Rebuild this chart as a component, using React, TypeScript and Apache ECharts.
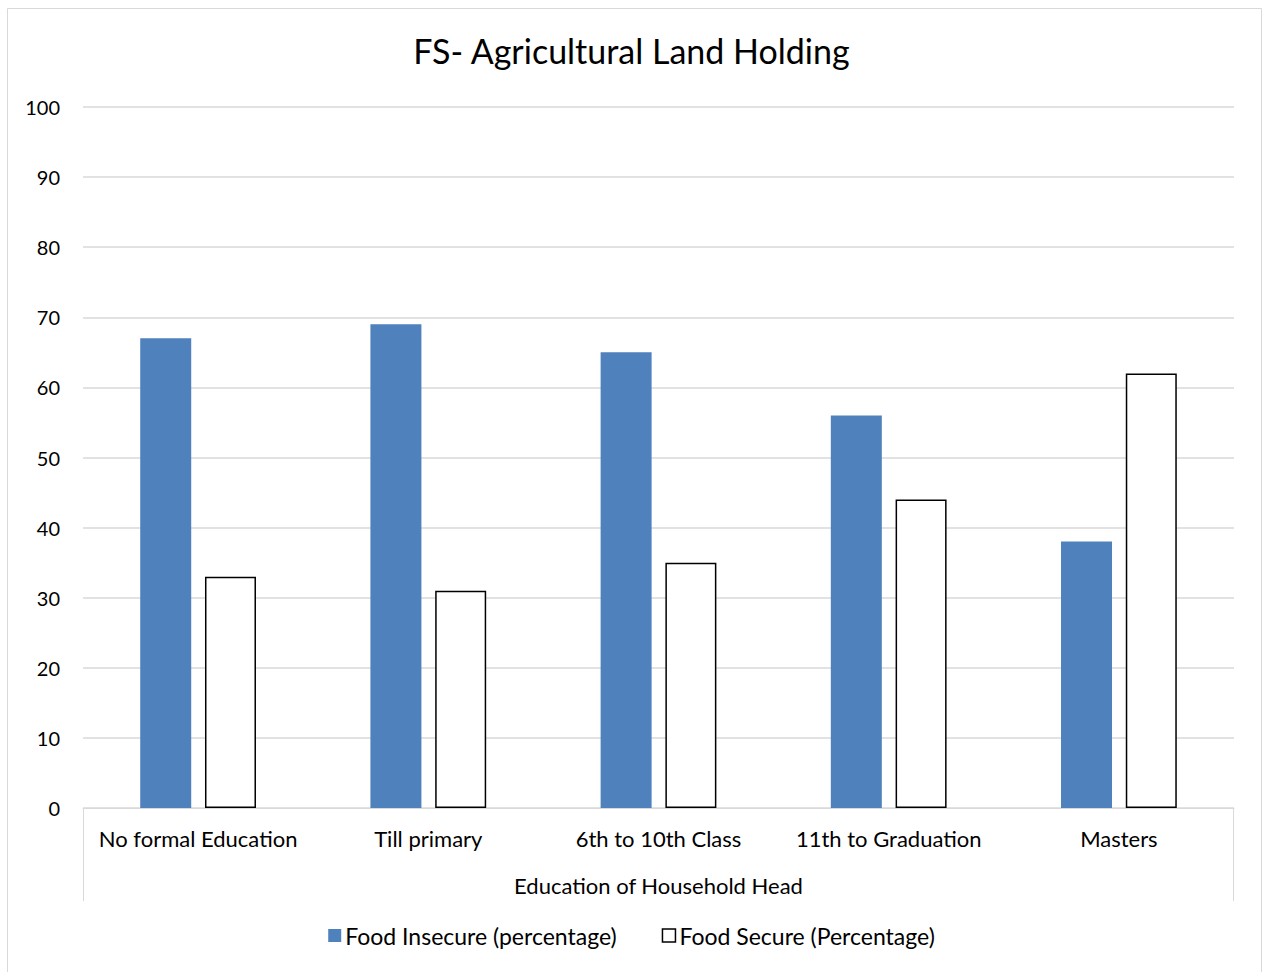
import React, { useEffect, useRef } from "react";
import * as echarts from "echarts";

const categories = ["No formal Education", "Till primary", "6th to 10th Class", "11th to Graduation", "Masters"];
const foodInsecure = [67, 69, 65, 56, 38];
const foodSecure = [33, 31, 35, 44, 62];
const seriesNames = ["Food Insecure (percentage)", "Food Secure (Percentage)"];
const titleText = "FS- Agricultural Land Holding";
const xAxisTitle = "Education of Household Head";

const FONT = "Lato, 'Noto Sans', sans-serif";

export default function App() {
  const ref = useRef<HTMLDivElement>(null);
  useEffect(() => {
    if (!ref.current) return;
    const chart = echarts.init(ref.current, undefined, { renderer: "svg" });
    chart.setOption({
      animation: false,
      backgroundColor: "#ffffff",
      textStyle: { fontFamily: FONT },
      title: {
        text: titleText,
        left: "center",
        top: 28,
        textStyle: { fontFamily: FONT, fontSize: 34, fontWeight: "normal", color: "#000" },
      },
      graphic: [
        {
          type: "rect",
          shape: { x: 7.5, y: 8.5, width: 1254, height: 975 },
          style: { fill: "none", stroke: "#d9d9d9", lineWidth: 1 },
          silent: true,
        },
        {
          type: "line",
          shape: { x1: 83.5, y1: 808, x2: 83.5, y2: 901 },
          style: { stroke: "#d9d9d9", lineWidth: 1 },
          silent: true,
        },
        {
          type: "line",
          shape: { x1: 1233.5, y1: 808, x2: 1233.5, y2: 901 },
          style: { stroke: "#d9d9d9", lineWidth: 1 },
          silent: true,
        },
      ],
      legend: {
        bottom: 20,
        left: "center",
        itemWidth: 13,
        itemHeight: 13,
        itemGap: 45,
        icon: "rect",
        textStyle: { fontFamily: FONT, fontSize: 23, color: "#000", padding: [0, 0, 0, -1] },
        data: [
          { name: seriesNames[0] },
          { name: seriesNames[1], itemStyle: { color: "#fff", borderColor: "#000", borderWidth: 1.5 } },
        ],
      },
      grid: { left: 83, right: 29, top: 107, bottom: 164 },
      xAxis: {
        type: "category",
        data: categories,
        axisLine: { lineStyle: { color: "#d9d9d9", width: 1 } },
        axisTick: { show: false },
        axisLabel: { interval: 0, fontFamily: FONT, fontSize: 22, color: "#000", margin: 19 },
        name: xAxisTitle,
        nameLocation: "middle",
        nameGap: 66,
        nameTextStyle: { fontFamily: FONT, fontSize: 22, color: "#000" },
      },
      yAxis: {
        type: "value",
        min: 0,
        max: 100,
        interval: 10,
        axisLine: { show: false },
        axisTick: { show: false },
        axisLabel: { fontFamily: FONT, fontSize: 20, color: "#000", margin: 23 },
        splitLine: { lineStyle: { color: "#d9d9d9", width: 1.5 } },
      },
      series: [
        {
          name: seriesNames[0],
          type: "bar",
          data: foodInsecure,
          barWidth: 51,
          barGap: "27%",
          itemStyle: { color: "#4f81bd" },
        },
        {
          name: seriesNames[1],
          type: "bar",
          data: foodSecure,
          barWidth: 51,
          itemStyle: { color: "#ffffff", borderColor: "#000", borderWidth: 1.5 },
        },
      ],
    });
    return () => chart.dispose();
  }, []);
  return (
    <div
      ref={ref}
      style={{ position: "absolute", left: 0, top: 0, width: 1263, height: 972, background: "#fff" }}
    />
  );
}
